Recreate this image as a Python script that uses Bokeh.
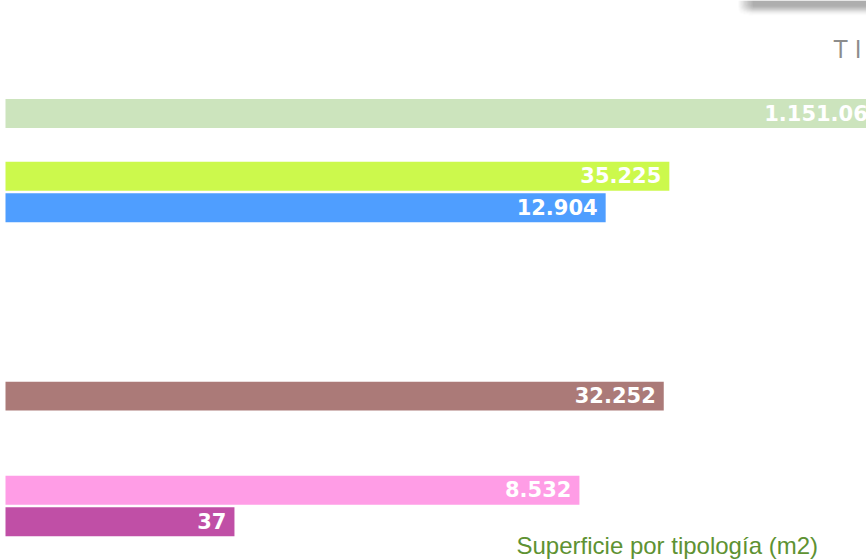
from bokeh.plotting import figure
from bokeh.models import Range1d, LinearScale, ColumnDataSource
from bokeh.core.properties import value
from bokeh.embed import file_html
from bokeh.resources import INLINE

# ---- data (rows of the chart, top to bottom; None = no visible bar) ----
categories = ["Tipología 1", "Tipología 2", "Tipología 3", "Tipología 4", "Tipología 5",
              "Tipología 6", "Tipología 7", "Tipología 8", "Tipología 9", "Tipología 10",
              "Tipología 11", "Tipología 12", "Tipología 13", "Tipología 14"]
superficie = [1151060, None, 35225, 12904, None, None, None, None, None, 32252,
              None, None, 8532, 37]
labels = ["1.151.060", None, "35.225", "12.904", None, None, None, None, None, "32.252",
          None, None, "8.532", "37"]
colors = ["#cce4bd", None, "#ccf94c", "#4f9eff", None, None, None, None, None, "#ab7a78",
          None, None, "#ff9de6", "#c04fa6"]
title_text = "T I P O L O G Í A S"
axis_caption = "Superficie por tipología (m2)"

# ---- layout ----
W, H = 866, 560
PX_PER_DECADE = 146.0
X0 = 5.0  # canvas px of value 1
ROW0, PITCH = 113.0, 31.4

rows, vals, labs, cols = [], [], [], []
for i, (c, v, l, col) in enumerate(zip(categories, superficie, labels, colors)):
    if v is None:
        continue
    rows.append(i)
    vals.append(v)
    labs.append(l)
    cols.append(col)

src = ColumnDataSource(dict(y=rows, right=vals, left=[1.0] * len(vals), label=labs, color=cols))

x_start = 10 ** ((0 - X0) / PX_PER_DECADE)
x_end = 10 ** ((W - X0) / PX_PER_DECADE)
y_top = -ROW0 / PITCH
y_bottom = (H - ROW0) / PITCH

p = figure(width=W, height=H, x_axis_type="log",
           x_range=Range1d(x_start, x_end), y_range=Range1d(y_bottom, y_top),
           output_backend="svg", toolbar_location=None, min_border=0,
           outline_line_color=None, background_fill_color="white", border_fill_color="white")
p.extra_x_ranges = {"px": Range1d(0, W)}
p.extra_x_scales = {"px": LinearScale()}
p.extra_y_ranges = {"px": Range1d(H, 0)}
p.extra_y_scales = {"px": LinearScale()}
p.xaxis.visible = False
p.yaxis.visible = False
p.xgrid.visible = False
p.ygrid.visible = False

# top blurred gray strip (decorative)
shade_alpha = [0.55, 0.55, 0.55, 0.55, 0.55, 0.52, 0.48, 0.42, 0.35, 0.27, 0.2, 0.13, 0.08, 0.04, 0.02]
for k, a in enumerate(shade_alpha):
    p.quad(left=[752], right=[866], top=[k], bottom=[k + 1], color="#555555", alpha=a,
           line_color=None, x_range_name="px", y_range_name="px")
    for j in range(14):
        p.quad(left=[738 + j], right=[739 + j], top=[k], bottom=[k + 1], color="#555555",
               alpha=a * (j + 1) / 15.0, line_color=None, x_range_name="px", y_range_name="px")

p.hbar(y="y", left="left", right="right", height=0.92, color="color", line_color=None, source=src)
p.text(x="right", y="y", text="label", source=src, text_align="right", text_baseline="alphabetic",
       x_offset=-8, y_offset=-1, text_color="white", text_font=value("DejaVu Sans"),
       text_font_style="bold", text_font_size="21px")

p.text(x=[833], y=[47], text=[title_text], text_font=value("Open Sans"), text_font_size="26px",
       text_color="#8c8c8c", text_baseline="alphabetic", x_range_name="px", y_range_name="px")
p.text(x=[516], y=[545], text=[axis_caption], text_font=value("Liberation Sans"),
       text_font_size="24px", text_color="#5e9232", text_baseline="alphabetic",
       x_range_name="px", y_range_name="px")

open("out.html", "w").write(file_html(p, INLINE))
